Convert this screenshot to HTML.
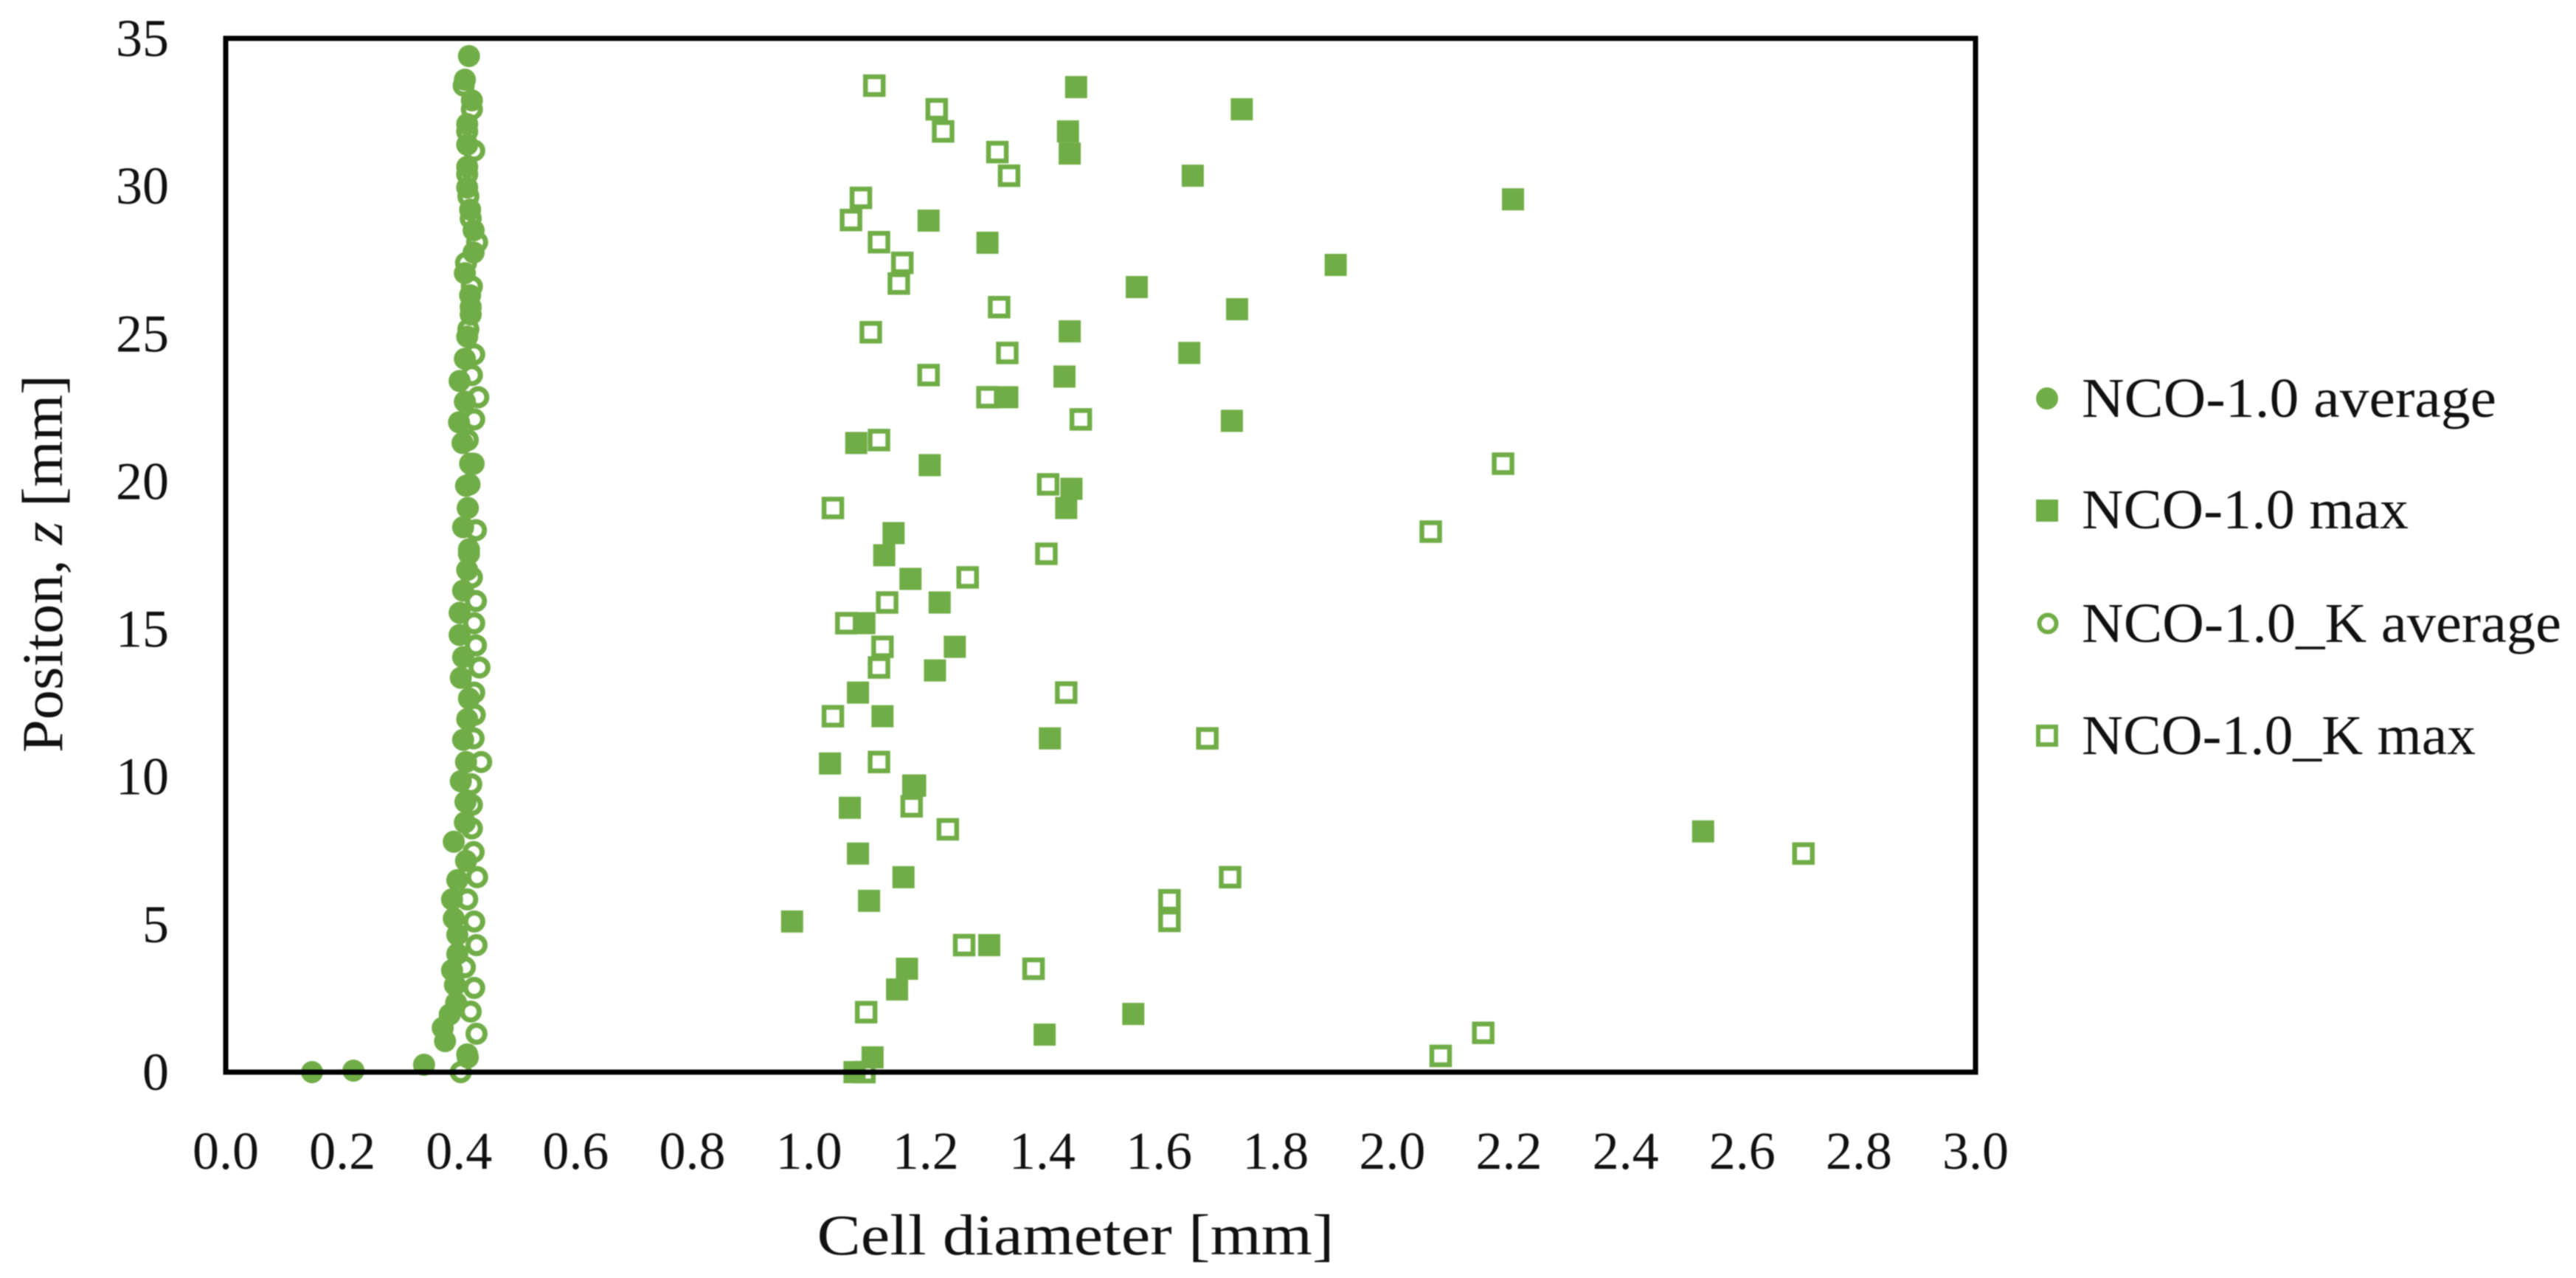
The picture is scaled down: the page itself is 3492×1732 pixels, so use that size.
<!DOCTYPE html>
<html lang="en">
<head>
<meta charset="utf-8">
<title>Cell diameter vs position</title>
<style>
html,body{margin:0;padding:0;background:#fff;width:3492px;height:1732px;overflow:hidden}
svg{display:block;filter:blur(0.8px)}
text{font-family:"Liberation Serif",serif;fill:#111}
</style>
</head>
<body>
<svg id="chart" xmlns="http://www.w3.org/2000/svg" width="3492" height="1732" viewBox="0 0 3492 1732">
  <rect x="0" y="0" width="3492" height="1732" fill="#fff"/>
  <g id="marks"></g>
  <rect x="306" y="52" width="2372" height="1401" fill="none" stroke="#000" stroke-width="7"/>
  <g id="xticks"></g>
  <g id="yticks"></g>
  <text x="1458" y="1700" font-size="78" text-anchor="middle" textLength="701" lengthAdjust="spacingAndGlyphs">Cell diameter [mm]</text>
  <text transform="translate(84,764) rotate(-90)" font-size="78" text-anchor="middle" textLength="512" lengthAdjust="spacingAndGlyphs">Positon, <tspan font-style="italic">z</tspan> [mm]</text>
  <g>
    <g>
      <circle cx="2775" cy="540" r="15" fill="#70AD47"/>
      <text x="2822" y="565" font-size="76" textLength="562" lengthAdjust="spacingAndGlyphs">NCO-1.0 average</text>
    </g>
    <g>
      <rect x="2760" y="677" width="30" height="30" fill="#70AD47"/>
      <text x="2822" y="716" font-size="76" textLength="443" lengthAdjust="spacingAndGlyphs">NCO-1.0 max</text>
    </g>
    <g>
      <circle cx="2776" cy="845" r="11.5" fill="#fff" stroke="#70AD47" stroke-width="6"/>
      <text x="2822" y="870" font-size="76" textLength="650" lengthAdjust="spacingAndGlyphs">NCO-1.0_K average</text>
    </g>
    <g>
      <rect x="2763" y="985" width="24" height="24" fill="#fff" stroke="#70AD47" stroke-width="6"/>
      <text x="2822" y="1022" font-size="76" textLength="534" lengthAdjust="spacingAndGlyphs">NCO-1.0_K max</text>
    </g>
  </g>
</svg>
<script>
const xTickLabels = ["0.0","0.2","0.4","0.6","0.8","1.0","1.2","1.4","1.6","1.8","2.0","2.2","2.4","2.6","2.8","3.0"];
const yTickLabels = ["0","5","10","15","20","25","30","35"];

const avgDiameter = [0.148,0.219,0.34,0.414,0.376,0.372,0.384,0.395,0.393,0.388,0.397,0.397,0.391,0.388,0.397,0.412,0.391,0.41,0.411,0.403,0.412,0.407,0.414,0.417,0.403,0.407,0.401,0.401,0.407,0.414,0.417,0.407,0.415,0.412,0.419,0.406,0.4,0.41,0.401,0.41,0.414,0.42,0.419,0.41,0.425,0.425,0.419,0.414,0.414,0.414,0.414,0.422,0.41,0.417];
const avgPosition = [0,0.05,0.25,0.6,1.05,1.5,1.95,2.35,2.95,3.45,4.0,4.65,5.2,5.85,6.5,7.15,7.8,8.45,9.15,9.85,10.5,11.25,11.95,12.65,13.35,14.05,14.8,15.55,16.3,17.0,17.7,18.45,19.1,19.85,20.6,21.3,22.0,22.7,23.4,24.15,24.9,25.65,26.3,27.05,27.75,28.5,29.2,29.95,30.65,31.4,32.1,32.9,33.6,34.4];

const maxDiameter = [1.078,1.109,1.404,1.556,1.151,1.168,1.309,0.971,1.103,1.162,1.084,2.533,1.07,1.182,1.036,1.413,1.126,1.084,1.216,1.25,1.095,1.224,1.174,1.129,1.145,1.441,1.45,1.207,1.081,1.725,1.34,1.438,1.652,1.447,1.734,1.562,1.903,1.306,1.205,2.207,1.658,1.447,1.444,1.742,1.458];
const maxPosition = [0,0.5,1.27,1.97,2.8,3.5,4.3,5.1,5.8,6.6,7.4,8.15,8.95,9.7,10.45,11.3,12.05,12.85,13.6,14.4,15.2,15.9,16.7,17.5,18.25,19.1,19.75,20.55,21.3,22.05,22.85,23.55,24.35,25.08,25.83,26.58,27.33,28.08,28.83,29.55,30.35,31.1,31.85,32.6,33.35];

const kAvgDiameter = [0.403,0.415,0.43,0.42,0.426,0.41,0.43,0.426,0.414,0.431,0.425,0.422,0.422,0.421,0.438,0.425,0.427,0.426,0.435,0.429,0.426,0.429,0.422,0.417,0.429,0.415,0.418,0.425,0.415,0.426,0.433,0.422,0.426,0.416,0.42,0.422,0.412,0.431,0.42,0.416,0.414,0.426,0.414,0.422,0.408];
const kAvgPosition = [0,0.5,1.3,2.05,2.85,3.55,4.3,5.1,5.85,6.6,7.45,8.25,9.05,9.75,10.5,11.3,12.1,12.85,13.7,14.45,15.2,15.95,16.75,17.55,18.35,19.1,19.9,20.6,21.4,22.1,22.85,23.6,24.3,25.15,25.9,26.6,27.4,28.1,28.9,29.65,30.4,31.2,31.85,32.6,33.4];

const kMaxDiameter = [1.095,2.083,2.156,1.098,1.385,1.266,1.618,1.618,1.722,2.705,1.238,1.176,1.179,1.12,1.683,1.041,1.441,1.12,1.126,1.064,1.134,1.272,1.407,2.066,1.041,1.41,2.19,1.12,1.466,1.306,1.205,1.34,1.106,1.326,1.154,1.16,1.12,1.072,1.089,1.343,1.323,1.23,1.219,1.112];
const kMaxPosition = [0,0.55,1.33,2.03,3.5,4.3,5.12,5.82,6.6,7.4,8.22,9.0,9.7,10.5,11.3,12.05,12.85,13.7,14.4,15.2,15.9,16.75,17.55,18.3,19.1,19.9,20.6,21.4,22.1,22.85,23.6,24.35,25.05,25.9,26.7,27.4,28.1,28.85,29.6,30.35,31.15,31.85,32.6,33.4];

const NS = "http://www.w3.org/2000/svg";
const GREEN = "#70AD47";
const xScale = v => 306 + (v / 3) * 2372;
const yScale = v => 1453 - (v / 35) * 1401;

const marks = document.getElementById("marks");
const xticks = document.getElementById("xticks");
const yticks = document.getElementById("yticks");

xTickLabels.forEach(label => {
  const t = document.createElementNS(NS, "text");
  t.setAttribute("x", xScale(parseFloat(label)));
  t.setAttribute("y", 1584);
  t.setAttribute("font-size", 72);
  t.setAttribute("text-anchor", "middle");
  
  
  t.textContent = label;
  xticks.appendChild(t);
});

yTickLabels.forEach(label => {
  const t = document.createElementNS(NS, "text");
  t.setAttribute("x", 229);
  t.setAttribute("y", yScale(parseFloat(label)) + 24);
  t.setAttribute("font-size", 72);
  t.setAttribute("text-anchor", "end");
  
  
  t.textContent = label;
  yticks.appendChild(t);
});

function drawCircles(xs, ys, r, hollow, name) {
  xs.forEach((v, i) => {
    const c = document.createElementNS(NS, "circle");
    c.setAttribute("cx", xScale(v));
    c.setAttribute("cy", yScale(ys[i]));
    c.setAttribute("r", r);
    c.setAttribute("fill", hollow ? "none" : GREEN);
    if (hollow) {
      c.setAttribute("stroke", GREEN);
      c.setAttribute("stroke-width", 7);
    }
    
    
    marks.appendChild(c);
  });
}

function drawSquares(xs, ys, size, hollow, name) {
  xs.forEach((v, i) => {
    const s = document.createElementNS(NS, "rect");
    s.setAttribute("x", xScale(v) - size / 2);
    s.setAttribute("y", yScale(ys[i]) - size / 2);
    s.setAttribute("width", size);
    s.setAttribute("height", size);
    s.setAttribute("fill", hollow ? "none" : GREEN);
    if (hollow) {
      s.setAttribute("stroke", GREEN);
      s.setAttribute("stroke-width", 6.5);
    }
    
    
    marks.appendChild(s);
  });
}

drawSquares(kMaxDiameter, kMaxPosition, 24, true, "nco-k-max-point");
drawSquares(maxDiameter, maxPosition, 30, false, "nco-max-point");
drawCircles(kAvgDiameter, kAvgPosition, 11.5, true, "nco-k-average-point");
drawCircles(avgDiameter, avgPosition, 15, false, "nco-average-point");
</script>
</body>
</html>
